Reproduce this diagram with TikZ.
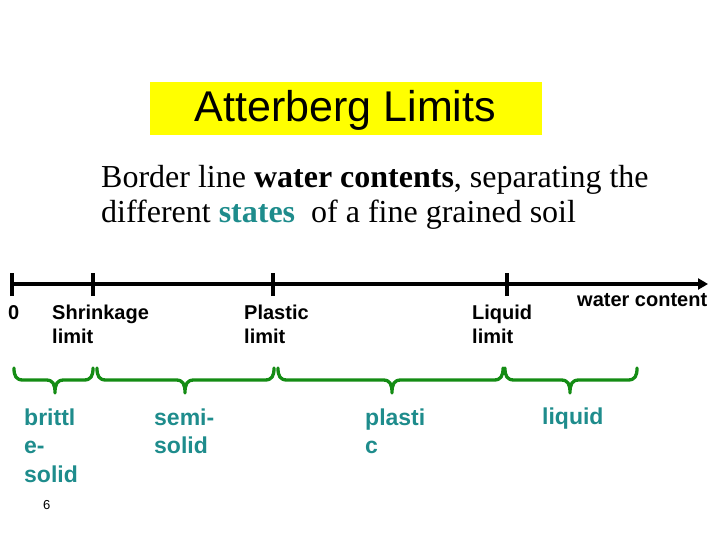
\documentclass[tikz,border=0pt]{standalone}
\usepackage{fontspec}
\setmainfont{Liberation Serif}
\newfontfamily\arial{Liberation Sans}
\usetikzlibrary{arrows.meta}
\definecolor{brgreen}{RGB}{20,140,20}
\definecolor{stteal}{RGB}{30,140,140}
\definecolor{ttlyellow}{RGB}{255,255,0}
\newcommand{\stbrace}[4]{%
  \draw[bracestyle] (#1,368) .. controls (#1,376) and (#1+2,380) .. (#1+9,380)
    -- (#2-9,380) .. controls (#2-2,380) and (#2,384) .. (#2,393)
    .. controls (#2,384) and (#2+2,380) .. (#2+9,380)
    -- (#3-9,380) .. controls (#3-2,380) and (#3,376) .. (#3,368) coordinate (#4);}
\begin{document}
\begin{tikzpicture}[x=1pt,y=-1pt,
  axisline/.style={line width=4pt},
  ticksty/.style={line width=4pt},
  limitlbl/.style={anchor=base west, align=left, inner sep=0pt,
    font=\arial\bfseries\fontsize{20}{24}\selectfont},
  statelbl/.style={anchor=base west, align=left, inner sep=0pt, text=stteal,
    font=\arial\bfseries\fontsize{23}{28.5}\selectfont},
  bracestyle/.style={draw=brgreen, line width=3.3pt, line cap=round, line join=round}]
\useasboundingbox (0,0) rectangle (720,540);
% title
\node[fill=ttlyellow, minimum width=392pt, minimum height=53pt, inner sep=0pt] (titlebox) at (346,108.5) {};
\node[anchor=base, inner sep=0pt, font=\arial\fontsize{43}{43}\selectfont] (title) at (345.5,122) {Atterberg Limits};
% subtitle (anchor = baseline of last line)
\node[anchor=base west, align=left, inner sep=0pt, font=\fontsize{32}{35}\selectfont] (sub) at (101,222.5)
  {Border line \textbf{water contents}, separating the\\ different \textcolor{stteal}{\textbf{states}}\ \ of a fine grained soil};
% axis
\coordinate (t0) at (12,284);
\coordinate (t1) at (93,284);
\coordinate (t2) at (273,284);
\coordinate (t3) at (507,284);
\coordinate (tip) at (708,284);
\draw[axisline, -{Triangle[length=10pt,width=11pt]}] (t0) -- (tip);
\foreach \t in {t0,t1,t2,t3}{
  \draw[ticksty] ([yshift=-12pt]\t) -- ([yshift=11pt]\t);
}
% limit labels
\node[limitlbl] (zero) at (8,319) {0};
\node[limitlbl] (sl) at (52,343) {Shrinkage\\limit};
\node[limitlbl] (pl) at (244,343) {Plastic\\limit};
\node[limitlbl] (ll) at (472,343) {Liquid\\limit};
\node[limitlbl] (wc) at (577,306) {water content};
% braces
\stbrace{14}{55}{93}{b1}
\stbrace{97}{185}{274}{b2}
\stbrace{278}{392}{503}{b3}
\stbrace{505}{570}{637}{b4}
% state labels
\node[statelbl] (brittle) at (24,482) {brittl\\e-\\solid};
\node[statelbl] (semi) at (154,453.5) {semi-\\solid};
\node[statelbl] (plastic) at (365,453.5) {plasti\\c};
\node[statelbl] (liquid) at (542,424) {liquid};
\node[anchor=base west, inner sep=0pt, font=\arial\fontsize{13}{13}\selectfont] (pg) at (43,509) {6};
\end{tikzpicture}
\end{document}
